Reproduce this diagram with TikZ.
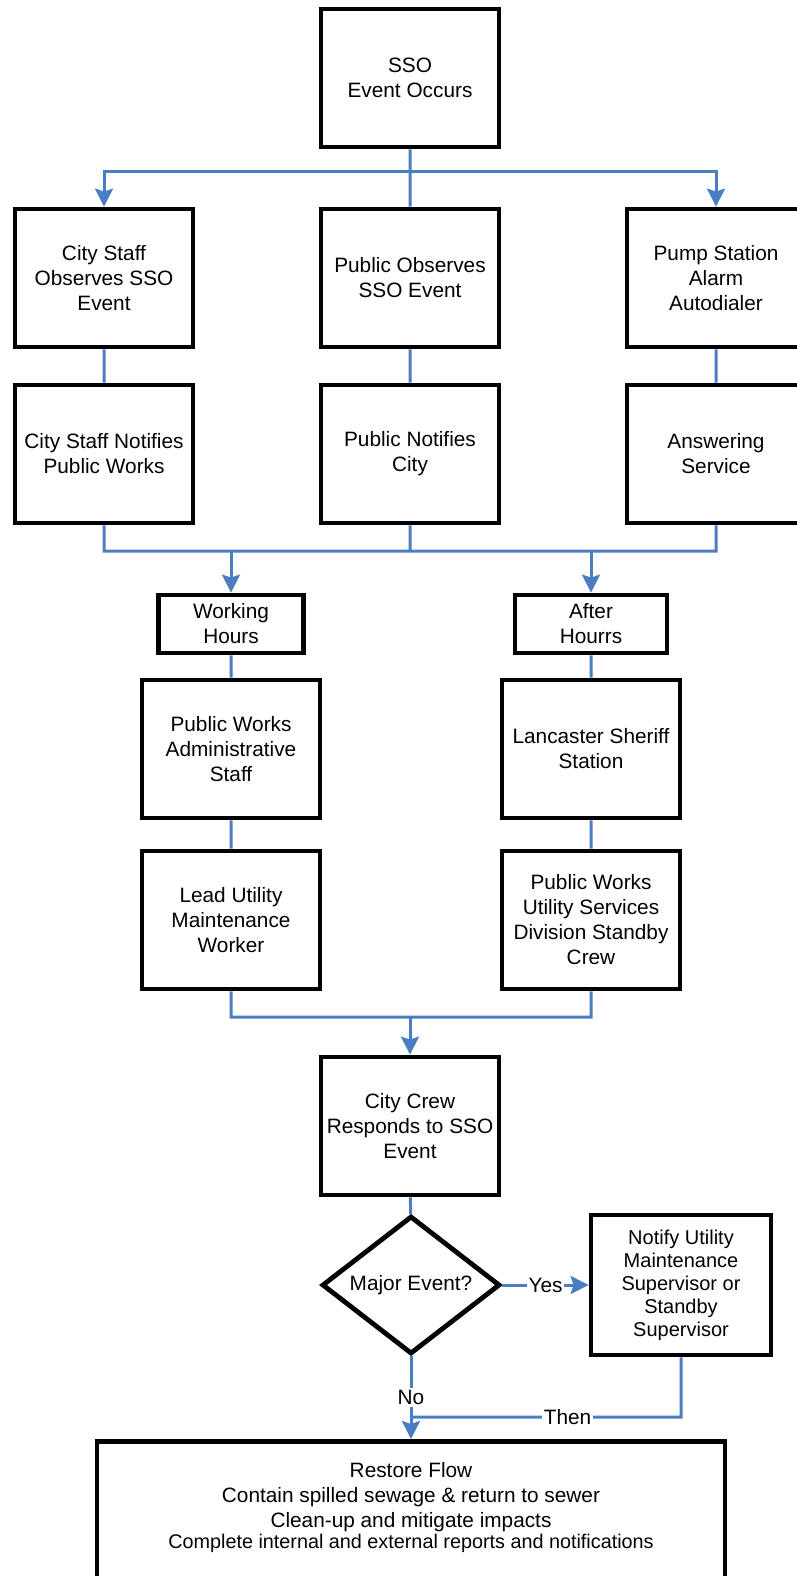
\documentclass[tikz,border=0pt]{standalone}
\usepackage{fontspec}
\setmainfont{Liberation Sans}
\usetikzlibrary{arrows.meta,shapes.geometric}
\definecolor{flowblue}{RGB}{74,125,193}

\begin{document}
\begin{tikzpicture}[x=0.5pt,y=-0.5pt,
    font=\fontsize{10.4}{12.5}\selectfont,
    >={Stealth[length=9pt,width=9pt,inset=1.5pt]},
    procbox/.style={draw,line width=2.4pt,align=center,minimum width=89pt,minimum height=69pt,inner sep=2pt},
    hoursbox/.style={procbox,minimum height=29pt},
    decision/.style={draw,diamond,line width=2.4pt,shape aspect=1.29,minimum width=89pt,minimum height=69pt,inner sep=0pt},
    flow/.style={draw=flowblue,line width=1.5pt},
    lbl/.style={fill=white,inner sep=1pt}]
    \useasboundingbox (0,0) rectangle (797,1576);

    % first row: event and how it is noticed
    \node[procbox] (sso) at (410,78) {SSO\\Event Occurs};
    \node[procbox] (cso) at (104,278) {City Staff\\Observes SSO\\Event};
    \node[procbox] (pso) at (410,278) {Public Observes\\SSO Event};
    \node[procbox] (pump) at (716,278) {Pump Station\\Alarm\\Autodialer};
    \node[procbox] (csn) at (104,454) {City Staff Notifies\\Public Works};
    \node[procbox] (pn) at (410,454) {Public Notifies\\City};
    \node[procbox] (ans) at (716,454) {Answering\\Service};

    % working hours / after hours branches
    \node[hoursbox,minimum width=72.5pt] (work) at (231,624) {Working\\Hours};
    \node[hoursbox,minimum width=76pt] (after) at (591,624) {After\\Hourrs};
    \node[procbox] (admin) at (231,749) {Public Works\\Administrative\\Staff};
    \node[procbox] (sheriff) at (591,749) {Lancaster Sheriff\\Station};
    \node[procbox] (lead) at (231,920) {Lead Utility\\Maintenance\\Worker};
    \node[procbox] (standby) at (591,920) {Public Works\\Utility Services\\Division Standby\\Crew};

    % response
    \node[procbox] (crew) at (410,1126) {City Crew\\Responds to SSO\\Event};
    \node[decision] (major) at (411,1285) {Major Event?};
    \node[procbox,minimum width=90pt,minimum height=70pt,font=\fontsize{10}{11.5}\selectfont] (notify) at (681,1285) {Notify Utility\\Maintenance\\Supervisor or\\Standby\\Supervisor};
    \node[draw,line width=2.4pt,minimum width=314pt,minimum height=100pt,anchor=north] (restore) at (411,1439) {};
    \node[anchor=north,align=center,inner sep=0pt] (tasks) at (411,1462) {Restore Flow\\Contain spilled sewage \& return to sewer\\Clean-up and mitigate impacts\\[-2pt]{\fontsize{9.9}{10.5}\selectfont Complete internal and external reports and notifications}};

    \coordinate (split) at (410,171);
    \coordinate (joinA) at (410,551);
    \coordinate (joinB) at (410,1017);
    \coordinate (then) at (411,1417);

    \path[flow]
        (sso) -- (pso)
        (cso) -- (csn)
        (pso) -- (pn)
        (pump) -- (ans)
        (csn.south) |- (joinA)
        (ans.south) |- (joinA)
        (pn.south) -- (joinA)
        (work) -- (admin)
        (admin) -- (lead)
        (after) -- (sheriff)
        (sheriff) -- (standby)
        (lead.south) |- (joinB)
        (standby.south) |- (joinB)
        (crew) -- (major)
        (notify.south) |- node[lbl,pos=0.71] {Then} (then);
    \path[flow,->]
        (split) -| (cso.north);
    \path[flow,->]
        (split) -| (pump.north);
    \path[flow,->] (work.north |- joinA) -- (work.north);
    \path[flow,->] (after.north |- joinA) -- (after.north);
    \path[flow,->] (joinB) -- (crew.north);
    \path[flow,->] (major.east) -- node[lbl] {Yes} (notify.west);
    \path[flow,->] (major.south) -- node[lbl] {No} (restore.north);
\end{tikzpicture}
\end{document}
